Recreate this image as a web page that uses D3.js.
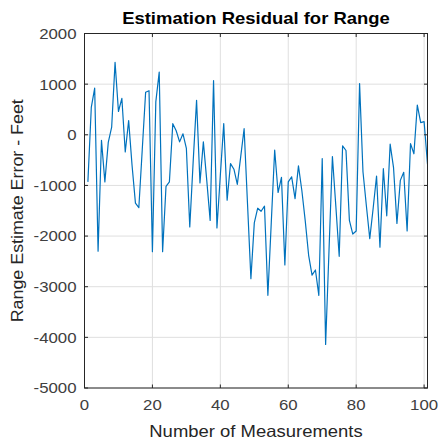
<!DOCTYPE html>
<html>
<head>
<meta charset="utf-8">
<script src="https://cdn.jsdelivr.net/npm/d3@7/dist/d3.min.js"></script>
<style>
  html, body { margin: 0; padding: 0; background: #fff; }
  svg { display: block; }
  text { font-family: "Liberation Sans", Arial, Helvetica, sans-serif; fill: #262626; }
</style>
</head>
<body>
<svg id="chart" width="441" height="442"></svg>
<script>
// ---- data ----
const residual = [
  -930, 540, 920, -2300, -110, -930, -150, 150, 1430, 460,
  720, -340, 280, -600, -1350, -1440, -300, 840, 870, -2310,
  650, 1240, -2310, -1020, -930, 220, 80, -140, 20, -270,
  -1820, -530, 680, -950, -140, -900, -1690, 1070, -1840, -800,
  220, -1290, -570, -680, -980, -430, 120, -1360, -2840, -1740,
  -1450, -1510, -1410, -3170, -1730, -300, -1140, -840, -2570, -930,
  -830, -1260, -615, -1100, -1700, -2380, -2770, -2670, -3170, -470,
  -4140, -2280, -430, -1400, -2400, -220, -310, -1690, -1960, -1900,
  1010, -730, -1400, -2050, -1450, -815, -2220, -670, -1600, -185,
  -650, -1750, -900, -740, -1900, -175, -375, 585, 240, 260,
  -580
];
const xTicks = [0, 20, 40, 60, 80, 100];
const yTicks = [-5000, -4000, -3000, -2000, -1000, 0, 1000, 2000];
const xDomain = [0, 101];
const yDomain = [-5000, 2000];
const titleText = "Estimation Residual for Range";
const xLabelText = "Number of Measurements";
const yLabelText = "Range Estimate Error - Feet";

// ---- layout ----
const L = 84.5, R = 427.5, T = 33.5, B = 388;
const svg = d3.select("#chart");
const x = d3.scaleLinear().domain(xDomain).range([L, R]);
const y = d3.scaleLinear().domain(yDomain).range([B, T]);

const axisColor = "#262626";
const gridColor = "#dfdfdf";
const lineColor = "#0072BD";

// grid
svg.append("g").selectAll("line.gx").data(xTicks).join("line")
  .attr("x1", d => x(d)).attr("x2", d => x(d))
  .attr("y1", T).attr("y2", B)
  .attr("stroke", gridColor).attr("stroke-width", 1);
svg.append("g").selectAll("line.gy").data(yTicks).join("line")
  .attr("x1", L).attr("x2", R)
  .attr("y1", d => y(d)).attr("y2", d => y(d))
  .attr("stroke", gridColor).attr("stroke-width", 1);

// data line
svg.append("defs").append("clipPath").attr("id", "clip")
  .append("rect").attr("x", L).attr("y", T).attr("width", R - L).attr("height", B - T);
const line = d3.line().x((d, i) => x(i + 1)).y(d => y(d));
svg.append("path").datum(residual)
  .attr("clip-path", "url(#clip)")
  .attr("d", line)
  .attr("fill", "none")
  .attr("stroke", lineColor)
  .attr("stroke-width", 1.2)
  .attr("stroke-linejoin", "round");

// box
svg.append("rect").attr("x", L).attr("y", T).attr("width", R - L).attr("height", B - T)
  .attr("fill", "none").attr("stroke", axisColor).attr("stroke-width", 1);

// ticks (inward, all four sides)
const tl = 3.5;
xTicks.forEach(d => {
  svg.append("line").attr("x1", x(d)).attr("x2", x(d)).attr("y1", B).attr("y2", B - tl).attr("stroke", axisColor);
  svg.append("line").attr("x1", x(d)).attr("x2", x(d)).attr("y1", T).attr("y2", T + tl).attr("stroke", axisColor);
});
yTicks.forEach(d => {
  svg.append("line").attr("x1", L).attr("x2", L + tl).attr("y1", y(d)).attr("y2", y(d)).attr("stroke", axisColor);
  svg.append("line").attr("x1", R).attr("x2", R - tl).attr("y1", y(d)).attr("y2", y(d)).attr("stroke", axisColor);
});

const SX = 1.12;
function stext(px, py, str, size, anchor, opts = {}) {
  const t = svg.append("text")
    .attr("transform", `translate(${px},${py})${opts.rotate ? " rotate(" + opts.rotate + ")" : ""} scale(${opts.sx || SX},1)`)
    .attr("text-anchor", anchor)
    .attr("font-size", size)
    .text(str);
  if (opts.bold) t.attr("font-weight", "bold").style("fill", "#000");
  if (opts.fill) t.style("fill", opts.fill);
  return t;
}

// tick labels
xTicks.forEach(d => stext(x(d), 410, String(d), 15, "middle", {fill: "#404040"}));
yTicks.forEach(d => stext(L - 8, y(d) + 5.4, String(d), 15, "end", {fill: "#404040"}));

// title & labels
stext((L + R) / 2, 24, titleText, 16.5, "middle", {bold: true});
stext((L + R) / 2, 437, xLabelText, 16.5, "middle", {fill: "#262626"});
svg.append("text")
  .attr("transform", `translate(23,${(T + B) / 2}) rotate(-90) scale(1.05,1)`)
  .attr("text-anchor", "middle")
  .attr("font-size", 17)
  .text(yLabelText);
</script>
</body>
</html>
